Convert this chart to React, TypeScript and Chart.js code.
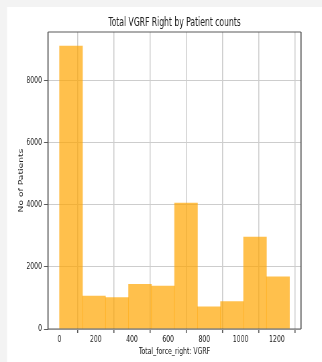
import React, { useEffect, useRef } from "react";
import { Chart, registerables } from "chart.js";

Chart.register(...registerables);

// Histogram bins of total right-foot vertical ground reaction force
const binEdges = [0, 127, 254, 381, 508, 635, 762, 889, 1016, 1143, 1270];
const patientCounts = [9100, 1060, 1010, 1440, 1380, 4050, 710, 880, 2960, 1680];

const xTickValues = [0, 200, 400, 600, 800, 1000, 1200];
const yTickValues = [0, 2000, 4000, 6000, 8000];

const chartTitle = "Total VGRF Right by Patient counts";
const xAxisTitle = "Total_force_right: VGRF";
const yAxisTitle = "No of Patients";

// Figure is laid out on a wider canvas and squeezed horizontally to its display width
const W = 322;
const H = 362;
const CANVAS_W = 480;
const SQUEEZE = W / CANVAS_W;
const cx = (px: number) => px / SQUEEZE;

const FONT = '"DejaVu Sans", "Liberation Sans", Arial, sans-serif';
const TEXT = "#222222";
const SPINE = "#5a5a5a";
const GRID = "#cdcdcd";

// 5% margins on both sides of the binned range, headroom of 5% above the tallest bin
const xSpan = binEdges[binEdges.length - 1] - binEdges[0];
const xMin = binEdges[0] - xSpan * 0.05;
const xMax = binEdges[binEdges.length - 1] + xSpan * 0.05;
const yMax = Math.max(...patientCounts) * 1.05;

const bars = patientCounts.map((count, i) => ({
  x: (binEdges[i] + binEdges[i + 1]) / 2,
  y: count,
}));

const backgroundPlugin = {
  id: "panelBackground",
  beforeDraw(chart: Chart) {
    const ctx = chart.ctx;
    ctx.save();
    ctx.fillStyle = "#f3f3f3";
    ctx.fillRect(0, 0, chart.width, chart.height);
    ctx.fillStyle = "#ffffff";
    ctx.fillRect(cx(7), 7, chart.width - cx(7), chart.height - 7);
    ctx.restore();
  },
};

const framePlugin = {
  id: "axesFrame",
  afterDraw(chart: Chart) {
    const { left, right, top, bottom } = chart.chartArea;
    const ctx = chart.ctx;
    ctx.save();
    ctx.strokeStyle = SPINE;
    ctx.lineWidth = 1.1;
    ctx.beginPath();
    ctx.moveTo(left, top);
    ctx.lineTo(right, top);
    ctx.moveTo(left, bottom);
    ctx.lineTo(right, bottom);
    ctx.stroke();
    ctx.lineWidth = 1.8;
    ctx.beginPath();
    ctx.moveTo(left, top);
    ctx.lineTo(left, bottom);
    ctx.moveTo(right, top);
    ctx.lineTo(right, bottom);
    ctx.stroke();
    ctx.restore();
  },
};

export default function App() {
  const canvasRef = useRef<HTMLCanvasElement | null>(null);

  useEffect(() => {
    const canvas = canvasRef.current;
    if (!canvas) return;
    const chart = new Chart(canvas, {
      type: "bar",
      data: {
        datasets: [
          {
            data: bars,
            backgroundColor: "rgba(255, 165, 0, 0.7)",
            borderWidth: 0,
            barPercentage: 1,
            categoryPercentage: 1,
            xAxisID: "x",
            yAxisID: "y",
          },
        ],
      },
      options: {
        responsive: false,
        animation: false,
        devicePixelRatio: 1,
        layout: { padding: { left: 0, right: CANVAS_W - cx(301), top: 0, bottom: 0 } },
        plugins: {
          legend: { display: false },
          tooltip: { enabled: false },
          title: { display: false },
        },
        scales: {
          // Top axis carries only the chart title, centred over the plot area
          xTitle: {
            type: "linear",
            position: "top",
            min: xMin,
            max: xMax,
            afterFit: (scale: any) => {
              scale.height = 32;
            },
            ticks: { display: false },
            grid: { display: false, drawTicks: false },
            border: { display: false },
            title: {
              display: true,
              text: chartTitle,
              color: TEXT,
              font: { family: FONT, size: 11.4, weight: "normal", lineHeight: 1.2 },
              padding: { top: 15.8, bottom: 0 },
            },
          },
          x: {
            type: "linear",
            position: "bottom",
            offset: false,
            min: xMin,
            max: xMax,
            afterBuildTicks: (scale: any) => {
              scale.ticks = xTickValues.map((value) => ({ value }));
            },
            afterFit: (scale: any) => {
              scale.height = 33;
            },
            ticks: {
              color: TEXT,
              font: { family: FONT, size: 9.2 },
              padding: 1,
              maxRotation: 0,
              autoSkip: false,
              callback: (v: any) => String(v),
            },
            grid: {
              color: GRID,
              lineWidth: 1.5,
              tickLength: 4,
              tickColor: SPINE,
              tickWidth: 1.6,
            },
            border: { display: false },
            title: {
              display: true,
              text: xAxisTitle,
              color: TEXT,
              font: { family: FONT, size: 9.2, lineHeight: 1.2 },
              padding: { top: 0, bottom: 5 },
            },
          },
          y: {
            type: "linear",
            min: 0,
            max: yMax,
            afterBuildTicks: (scale: any) => {
              scale.ticks = yTickValues.map((value) => ({ value }));
            },
            afterFit: (scale: any) => {
              scale.width = cx(48);
            },
            ticks: {
              color: TEXT,
              font: { family: FONT, size: 9.2 },
              padding: 3,
              autoSkip: false,
              callback: (v: any) => String(v),
            },
            grid: {
              color: GRID,
              lineWidth: 1,
              tickLength: 6,
              tickColor: SPINE,
              tickWidth: 1,
            },
            border: { display: false },
            title: {
              display: true,
              text: yAxisTitle,
              color: TEXT,
              font: { family: FONT, size: 9.2, lineHeight: 1.2 },
              padding: { top: cx(21.5) - 5.5, bottom: 0 },
            },
          },
        },
      },
      plugins: [backgroundPlugin, framePlugin],
    });
    return () => chart.destroy();
  }, []);

  return (
    <div style={{ position: "fixed", left: 0, top: 0, width: W, height: H, overflow: "hidden" }}>
      <canvas
        ref={canvasRef}
        width={CANVAS_W}
        height={H}
        style={{
          display: "block",
          width: CANVAS_W,
          height: H,
          transform: `scaleX(${SQUEEZE})`,
          transformOrigin: "0 0",
        }}
      />
    </div>
  );
}
